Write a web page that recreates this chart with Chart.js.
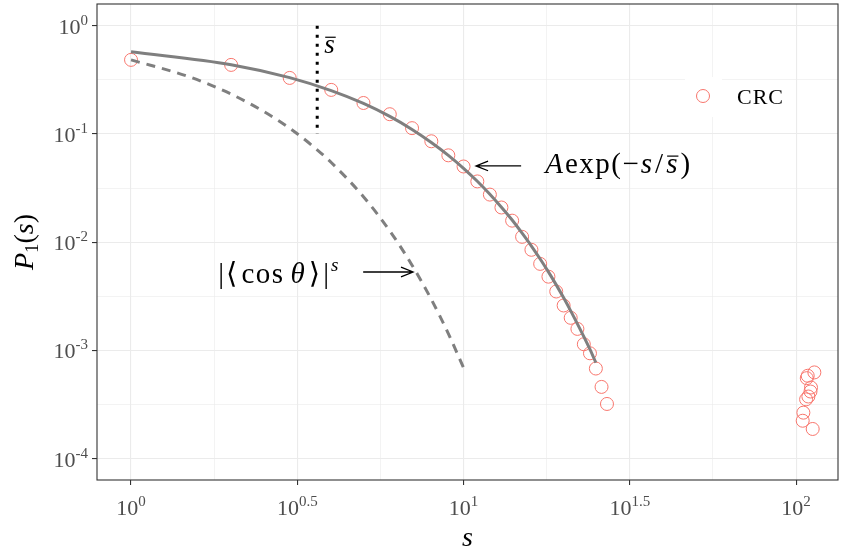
<!DOCTYPE html>
<html lang="en">
<head>
<meta charset="UTF-8" />
<title>P1(s)</title>
<script src="https://cdn.jsdelivr.net/npm/chart.js@4.4.0/dist/chart.umd.min.js"></script>
<style>
  html, body { margin: 0; padding: 0; background: #fff; }
</style>
</head>
<body>
<canvas id="pChart" width="843" height="552"></canvas>
<script>
// CRC points
const crc_s = [1, 2, 3, 4, 5, 6, 7, 8, 9, 10, 11, 12, 13, 14, 15, 16, 17, 18, 19, 20,
  21, 22, 23, 24, 25, 26, 27,
  113.5, 108.4, 107.7, 110.9, 110.5, 108.9, 107.2, 105.2, 104.7, 112.2];
const crc_p = [0.483, 0.434, 0.329, 0.255, 0.193, 0.152, 0.113, 0.0855, 0.0634, 0.050,
  0.0364, 0.0275, 0.0209, 0.0158, 0.0112, 0.0085, 0.0063, 0.0048, 0.0035, 0.0026,
  0.0020, 0.00158, 0.00114, 0.00094, 0.00068, 0.00046, 0.00032,
  6.26e-4, 5.83e-4, 5.54e-4, 4.54e-4, 4.17e-4, 3.75e-4, 3.53e-4, 2.66e-4, 2.24e-4, 1.88e-4];

// solid curve  A exp(-s/sbar)
const fit_s = [1, 2, 3, 4, 5, 6, 7, 8, 9, 10, 11, 12, 13, 14, 15, 16, 17, 18, 19, 20, 21, 22, 23, 24, 25];
const fit_p = [0.574, 0.436, 0.331, 0.251, 0.191, 0.145, 0.110, 0.0834, 0.0634, 0.0481,
  0.0365, 0.0277, 0.0210, 0.0160, 0.0121, 0.00921, 0.00699, 0.00531, 0.00403, 0.00306,
  0.00232, 0.00176, 0.00134, 0.00102, 0.00077];

// dashed curve |<cos theta>|^s
const cos_s = [1, 1.5, 2, 2.5, 3, 3.5, 4, 5, 6, 7, 8, 9, 10];
const cos_p = [0.483, 0.336, 0.233, 0.162, 0.113, 0.0783, 0.0544, 0.0263, 0.0127, 0.00613, 0.00296, 0.00143, 0.00069];

// dotted marker at mean s
const sbar = 3.63;
const sbar_p = [1, 0.1];

// axis exponents (10^e)
const x_major = [0, 0.5, 1, 1.5, 2];
const x_minor = [0.25, 0.75, 1.25, 1.75];
const y_major = [0, -1, -2, -3, -4];
const y_minor = [-0.5, -1.5, -2.5, -3.5];

const FONT = '"Liberation Serif", "DejaVu Serif", serif';
const GRID = '#EBEBEB';

function fnt(sz, it) { return (it ? 'italic ' : '') + sz + 'px ' + FONT; }
function isMajor(v, list) {
  const e = Math.log10(v);
  return list.some(m => Math.abs(m - e) < 1e-6);
}

// width of one piece, with optional letter spacing
function pieceWidth(ctx, p) {
  ctx.font = fnt(p.sz, p.it);
  const ls = p.ls || 0;
  return ctx.measureText(p.t).width + ls * p.t.length + (p.gap || 0);
}

// draw a row of text pieces (for math style labels)
function textRuns(ctx, x, y, parts, align) {
  let w = 0;
  parts.forEach(p => { p.w = pieceWidth(ctx, p); w += p.w; });
  let cx = align === 'center' ? x - w / 2 : align === 'right' ? x - w : x;
  parts.forEach(p => {
    ctx.font = fnt(p.sz, p.it);
    const yy = y + (p.dy || 0);
    if (p.ls) {
      let c = cx;
      for (const ch of p.t) {
        ctx.fillText(ch, c, yy);
        c += ctx.measureText(ch).width + p.ls;
      }
    } else {
      ctx.fillText(p.t, cx, yy);
    }
    if (p.bar) {
      ctx.save();
      ctx.lineWidth = 1.2;
      ctx.strokeStyle = ctx.fillStyle;
      ctx.beginPath();
      const by = yy - p.sz * 0.58;
      ctx.moveTo(cx + 1, by);
      ctx.lineTo(cx + ctx.measureText(p.t).width + 1, by);
      ctx.stroke();
      ctx.restore();
    }
    cx += p.w;
  });
}

function arrow(ctx, x1, y1, x2, y2) {
  const a = Math.atan2(y2 - y1, x2 - x1);
  const h = 13, sp = 0.38;
  ctx.save();
  ctx.strokeStyle = '#000';
  ctx.lineWidth = 1.3;
  ctx.beginPath();
  ctx.moveTo(x1, y1); ctx.lineTo(x2, y2);
  ctx.moveTo(x2 - h * Math.cos(a - sp), y2 - h * Math.sin(a - sp));
  ctx.lineTo(x2, y2);
  ctx.lineTo(x2 - h * Math.cos(a + sp), y2 - h * Math.sin(a + sp));
  ctx.stroke();
  ctx.restore();
}

const decorPlugin = {
  id: 'decor',
  beforeDatasetsDraw(chart) {
    // legend key background hides grid lines
    const ctx = chart.ctx;
    ctx.save();
    ctx.fillStyle = '#fff';
    ctx.fillRect(685, 77, 37, 40);
    ctx.restore();
  },
  afterDraw(chart) {
    const ctx = chart.ctx;
    const xs = chart.scales.x, ys = chart.scales.y;
    const a = chart.chartArea;
    ctx.save();

    // panel border
    ctx.strokeStyle = '#333333';
    ctx.lineWidth = 1.1;
    ctx.strokeRect(a.left, a.top, a.right - a.left, a.bottom - a.top);

    // tick labels
    ctx.fillStyle = '#4D4D4D';
    ctx.textBaseline = 'alphabetic';
    ctx.textAlign = 'left';
    x_major.forEach(e => {
      const px = xs.getPixelForValue(Math.pow(10, e));
      textRuns(ctx, px, a.bottom + 35, [
        { t: '10', sz: 22 },
        { t: String(e), sz: 15, dy: -9 }
      ], 'center');
    });
    y_major.forEach(e => {
      const py = ys.getPixelForValue(Math.pow(10, e));
      textRuns(ctx, a.left - 9, py + 8, [
        { t: '10', sz: 22 },
        { t: String(e), sz: 15, dy: -9 }
      ], 'right');
    });

    // axis titles
    ctx.fillStyle = '#000';
    textRuns(ctx, (a.left + a.right) / 2, 546, [{ t: 's', sz: 28, it: true }], 'center');
    ctx.save();
    ctx.translate(33, (a.top + a.bottom) / 2);
    ctx.rotate(-Math.PI / 2);
    textRuns(ctx, 0, 0, [
      { t: 'P', sz: 28, it: true },
      { t: '1', sz: 19, dy: 5 },
      { t: '(', sz: 28 },
      { t: 's', sz: 28, it: true },
      { t: ')', sz: 28 }
    ], 'center');
    ctx.restore();

    // annotations
    const X = v => xs.getPixelForValue(v);
    const Y = v => ys.getPixelForValue(v);
    textRuns(ctx, X(3.81), Y(0.56), [{ t: 's', sz: 27, it: true, bar: true }], 'left');

    textRuns(ctx, X(17.6), Y(0.0436), [
      { t: 'A', sz: 29, it: true, gap: 2 },
      { t: 'exp(', sz: 29, ls: 1.5 },
      { t: '\u2212', sz: 29, gap: 2 },
      { t: 's', sz: 29, it: true, gap: 3 },
      { t: '/', sz: 29, gap: 3 },
      { t: 's', sz: 29, it: true, bar: true, gap: 3 },
      { t: ')', sz: 29 }
    ], 'left');
    arrow(ctx, X(14.9), Y(0.0506), X(10.9), Y(0.0506));

    textRuns(ctx, X(1.83), Y(0.0042), [
      { t: '|', sz: 29, gap: 2 },
      { t: '\u27E8', sz: 29, gap: 4 },
      { t: 'cos', sz: 29, ls: 1.5, gap: 6 },
      { t: '\u03B8', sz: 29, it: true, gap: 4 },
      { t: '\u27E9', sz: 29, gap: 3 },
      { t: '|', sz: 29, gap: 2 },
      { t: 's', sz: 19, it: true, dy: -12 }
    ], 'left');
    arrow(ctx, X(4.99), Y(0.0053), X(7.05), Y(0.0053));

    // legend
    ctx.strokeStyle = '#F8766D';
    ctx.lineWidth = 1;
    ctx.beginPath();
    ctx.arc(703, 96, 6.5, 0, Math.PI * 2);
    ctx.stroke();
    ctx.fillStyle = '#000';
    textRuns(ctx, 737, 104, [{ t: 'CRC', sz: 22, ls: 1 }], 'left');

    ctx.restore();
  }
};

function gridOpts(major) {
  return {
    color: GRID,
    lineWidth: c => (c.tick && isMajor(c.tick.value, major) ? 1.1 : 0.6),
    drawTicks: true,
    tickLength: 5,
    tickWidth: 1.1,
    tickColor: c => (c.tick && isMajor(c.tick.value, major) ? '#333333' : 'rgba(0,0,0,0)')
  };
}

const ctx = document.getElementById('pChart').getContext('2d');
const pChart = new Chart(ctx, {
  type: 'scatter',
  data: {
    datasets: [
      {
        label: 'sbar',
        data: sbar_p.map(p => ({ x: sbar, y: p })),
        showLine: true,
        borderColor: '#000000',
        borderWidth: 3,
        borderDash: [3, 6],
        borderCapStyle: 'butt',
        pointRadius: 0,
        order: 0
      },
      {
        label: 'fit',
        data: fit_s.map((s, i) => ({ x: s, y: fit_p[i] })),
        showLine: true,
        borderColor: '#7F7F7F',
        borderWidth: 3,
        cubicInterpolationMode: 'monotone',
        pointRadius: 0,
        order: 1
      },
      {
        label: 'cos',
        data: cos_s.map((s, i) => ({ x: s, y: cos_p[i] })),
        showLine: true,
        borderColor: '#7F7F7F',
        borderWidth: 3,
        borderDash: [9, 7],
        borderCapStyle: 'butt',
        cubicInterpolationMode: 'monotone',
        pointRadius: 0,
        order: 2
      },
      {
        label: 'CRC',
        data: crc_s.map((s, i) => ({ x: s, y: crc_p[i] })),
        pointStyle: 'circle',
        pointRadius: 6.5,
        borderColor: '#F8766D',
        backgroundColor: 'rgba(0,0,0,0)',
        borderWidth: 1,
        order: 3
      }
    ]
  },
  options: {
    responsive: false,
    animation: false,
    devicePixelRatio: 1,
    layout: { autoPadding: false, padding: { left: 0, right: 5, top: 4, bottom: 0 } },
    plugins: { legend: { display: false }, tooltip: { enabled: false } },
    scales: {
      x: {
        type: 'logarithmic',
        min: 0.79,
        max: 133.7,
        afterBuildTicks: sc => { sc.ticks = x_major.concat(x_minor).sort((a, b) => a - b).map(e => ({ value: Math.pow(10, e) })); },
        afterFit: sc => { sc.height = 72; },
        ticks: { display: false, autoSkip: false },
        grid: gridOpts(x_major),
        border: { display: false }
      },
      y: {
        type: 'logarithmic',
        min: 6.35e-5,
        max: 1.585,
        afterBuildTicks: sc => { sc.ticks = y_major.concat(y_minor).sort((a, b) => a - b).map(e => ({ value: Math.pow(10, e) })); },
        afterFit: sc => { sc.width = 97; },
        ticks: { display: false, autoSkip: false },
        grid: gridOpts(y_major),
        border: { display: false }
      }
    }
  },
  plugins: [decorPlugin]
});
</script>
</body>
</html>
